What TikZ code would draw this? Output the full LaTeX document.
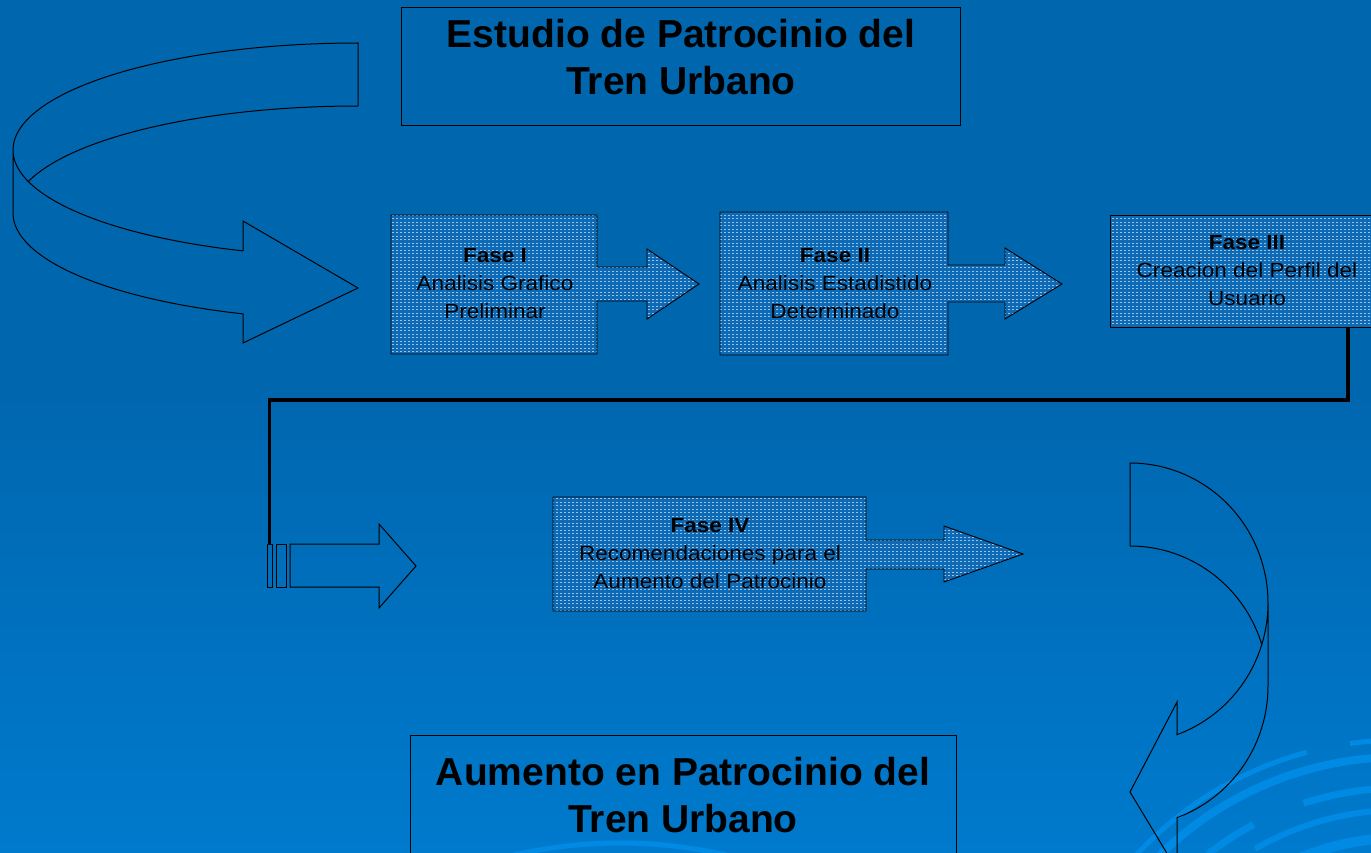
\documentclass[tikz,border=0pt]{standalone}
\usepackage{fontspec}
\setmainfont{Liberation Sans}
\newfontfamily\phfont[FakeStretch=1.1]{Liberation Sans}
\usetikzlibrary{patterns}
\pgfdeclarepatternformonly{finedots}{\pgfqpoint{-0.5pt}{-0.5pt}}{\pgfqpoint{4.5pt}{4pt}}{\pgfqpoint{4pt}{3.5pt}}{\pgfpathrectangle{\pgfqpoint{0pt}{0pt}}{\pgfqpoint{1.6pt}{1pt}}\pgfusepath{fill}}
\definecolor{bgtop}{RGB}{0,102,174}
\definecolor{bgbot}{RGB}{0,122,205}
\definecolor{ringc}{RGB}{0,138,228}
\definecolor{boxfill}{RGB}{14,106,180}
\definecolor{dotc}{RGB}{150,195,235}
\tikzset{
  titlebox/.style={draw=black, line width=1pt},
  titletext/.style={font=\bfseries\fontsize{39}{47}\selectfont, align=center, anchor=north, inner sep=0pt, text=black},
  phase/.style={preaction={fill=boxfill}, pattern=finedots, pattern color=dotc, draw=black, line width=0.9pt, line join=miter},
  phasetext/.style={font=\phfont\fontsize{20.5}{28}\selectfont, align=center, anchor=north, inner sep=0pt, text=black},
  ribbon/.style={draw=black, line width=1pt, line join=miter},
  link/.style={draw=black, line width=3.5pt},
  ring/.style={draw=ringc, line cap=butt},
}
\begin{document}
\begin{tikzpicture}[x=1pt,y=-1pt]
\clip (0,0) rectangle (1371,853);
% background
\fill[bgtop] (0,0) rectangle (1371,380);
\shade[top color=bgtop, bottom color=bgbot] (0,379) rectangle (1371,853);
% decorative rings
\draw[ring, line width=5pt] plot[variable=\t, domain=222:255, samples=40] ({1400+360*cos(\t)},{1100+360*sin(\t)});
\draw[ring, line width=5pt] plot[variable=\t, domain=262:280, samples=20] ({1400+360*cos(\t)},{1100+360*sin(\t)});
\draw[ring, line width=8pt] plot[variable=\t, domain=215:280, samples=50] ({1400+343*cos(\t)},{1100+343*sin(\t)});
\draw[ring, line width=7pt] plot[variable=\t, domain=232:242, samples=10] ({1400+312*cos(\t)},{1100+312*sin(\t)});
\draw[ring, line width=7pt] plot[variable=\t, domain=252:285, samples=30] ({1400+312*cos(\t)},{1100+312*sin(\t)});
\draw[ring, line width=6pt] plot[variable=\t, domain=222:230, samples=10] ({1400+290*cos(\t)},{1100+290*sin(\t)});
\draw[ring, line width=6pt] plot[variable=\t, domain=240:285, samples=30] ({1400+290*cos(\t)},{1100+290*sin(\t)});
\draw[ring, line width=10pt] plot[variable=\t, domain=225:290, samples=40] ({1400+262*cos(\t)},{1100+262*sin(\t)});
\draw[ring, line width=5pt] plot[variable=\t, domain=257:283, samples=30] ({620+475*cos(\t)},{1318+475*sin(\t)});

% title boxes
\draw[titlebox] (401,8) rectangle (960,126);
\node[titletext] (ttop) at (681,18.7) {Estudio de Patrocinio del\\Tren Urbano};
\draw[titlebox] (410,735) rectangle (956,870);
\node[titletext] (tbot) at (683,756.7) {Aumento en Patrocinio del\\Tren Urbano};

% left curved arrow
\draw[ribbon] (358,106) -- (358,43)
  -- plot[variable=\t, domain=270:180, samples=60] ({358+345*cos(\t)},{150+107*sin(\t)})
  -- (13,213)
  -- plot[variable=\t, domain=180:109.47, samples=50] ({358+345*cos(\t)},{213+107*sin(\t)})
  -- (243,343) -- (358,288) -- (243,221) -- (243,251)
  -- plot[variable=\t, domain=109.47:180, samples=50] ({358+345*cos(\t)},{150+107*sin(\t)});
\draw[ribbon] plot[variable=\t, domain=270:196.8, samples=60] ({358+345*cos(\t)},{213+107*sin(\t)});

% right curved arrow
\draw[ribbon] (1130,546) -- (1130,463)
  -- plot[variable=\t, domain=270:360, samples=50] ({1130+138*cos(\t)},{603+140*sin(\t)})
  -- (1268,686)
  -- plot[variable=\t, domain=0:70.09, samples=40] ({1130+138*cos(\t)},{686+140*sin(\t)})
  -- (1177,870) -- (1130,792) -- (1177,702) -- (1177,734.6)
  -- plot[variable=\t, domain=70.09:0, samples=40] ({1130+138*cos(\t)},{603+140*sin(\t)});
\draw[ribbon] plot[variable=\t, domain=270:342.76, samples=50] ({1130+138*cos(\t)},{686+140*sin(\t)});

% phase shapes
\draw[phase] (391,215) -- (597,215) -- (597,267) -- (647,267) -- (647,249) -- (699,284)
  -- (647,319) -- (647,301) -- (597,301) -- (597,354) -- (391,354) -- cycle;
\node[phasetext] (f1) at (495,248.3) {\textbf{Fase I}\\Analisis Grafico\\Preliminar};

\draw[phase] (720,212) -- (948,212) -- (948,265) -- (1005,265) -- (1005,248) -- (1062,284)
  -- (1005,319) -- (1005,302) -- (948,302) -- (948,355) -- (720,355) -- cycle;
\node[phasetext] (f2) at (835,248.3) {\textbf{Fase II}\\Analisis Estadistido\\Determinado};

\draw[phase] (1110,215) rectangle (1390,327);
\node[phasetext] (f3) at (1247,235.3) {\textbf{Fase III}\\Creacion del Perfil del\\Usuario};

\draw[phase] (553,497) -- (866,497) -- (866,540) -- (944,540) -- (944,526) -- (1023,554)
  -- (944,582) -- (944,569) -- (866,569) -- (866,611) -- (553,611) -- cycle;
\node[phasetext] (f4) at (710,518.3) {\textbf{Fase IV}\\Recomendaciones para el\\Aumento del Patrocinio};

% striped arrow
\draw[ribbon] (267,544) rectangle (272,587);
\draw[ribbon] (276,544) rectangle (286,587);
\draw[ribbon] (290,544) -- (379,544) -- (379,524) -- (416,566) -- (379,608) -- (379,587) -- (290,587) -- cycle;

% connector
\coordinate (f3out) at (1348,327);
\coordinate (bend) at (269.5,400);
\coordinate (sin) at (269.5,544);
\draw[link] (f3out) |- (bend) -- (sin);
\end{tikzpicture}
\end{document}
